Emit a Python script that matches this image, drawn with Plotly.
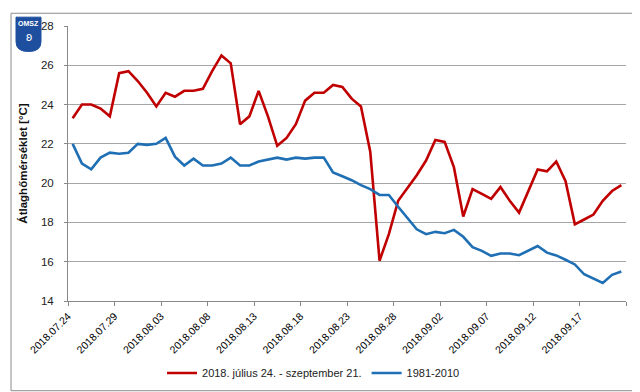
import pandas as pd
import plotly.graph_objects as go

# Dates (daily) 2018.07.24 - 2018.09.21
dates = pd.date_range("2018-07-24", "2018-09-21", freq="D")
date_labels = [d.strftime("%Y.%m.%d") for d in dates]

temp_2018 = [
    23.3, 24.0, 24.0, 23.8, 23.4, 25.6, 25.7, 25.2, 24.6, 23.9,
    24.6, 24.4, 24.7, 24.7, 24.8, 25.7, 26.5, 26.1, 23.0, 23.4,
    24.7, 23.4, 21.9, 22.3, 23.0, 24.2, 24.6, 24.6, 25.0, 24.9,
    24.3, 23.9, 21.6, 16.05, 17.4, 19.1, 19.75, 20.4, 21.15, 22.2,
    22.1, 20.8, 18.3, 19.7, 19.45, 19.2, 19.8, 19.1, 18.5, 19.65,
    20.7, 20.6, 21.1, 20.1, 17.9, 18.15, 18.4, 19.1, 19.6, 19.9,
]
temp_1981_2010 = [
    22.0, 21.0, 20.7, 21.3, 21.55, 21.5, 21.55, 22.0, 21.95, 22.0,
    22.3, 21.35, 20.9, 21.25, 20.9, 20.9, 21.0, 21.3, 20.9, 20.9,
    21.1, 21.2, 21.3, 21.2, 21.3, 21.25, 21.3, 21.3, 20.55, 20.35,
    20.15, 19.9, 19.7, 19.4, 19.4, 18.8, 18.25, 17.65, 17.4, 17.52,
    17.45, 17.62, 17.27, 16.74, 16.55, 16.3, 16.42, 16.42, 16.33, 16.57,
    16.8, 16.46, 16.32, 16.1, 15.86, 15.36, 15.13, 14.92, 15.33, 15.5,
]

series_names = ["2018. július 24. - szeptember 21.", "1981-2010"]
series_colors = ["#c00000", "#1f6fb4"]

x_idx = list(range(len(dates)))
tick_step = 5
tickvals = [i - 0.5 for i in range(0, len(dates) + 1, tick_step)]
ticktext = [date_labels[i] if i < len(dates) else "" for i in range(0, len(dates) + 1, tick_step)]
if tickvals[-1] != len(dates) - 0.5:
    tickvals.append(len(dates) - 0.5)
    ticktext.append("")

fig = go.Figure()
for name, vals, col in zip(series_names, [temp_2018, temp_1981_2010], series_colors):
    fig.add_trace(go.Scatter(
        x=x_idx, y=vals, mode="lines", name=name,
        line=dict(color=col, width=2.6),
    ))

font_family = "Liberation Sans, Arial, sans-serif"

fig.update_layout(
    width=640, height=392,
    margin=dict(l=60, r=22, t=16, b=95.5),
    paper_bgcolor="white", plot_bgcolor="white",
    font=dict(family=font_family, size=11, color="#222222"),
    showlegend=True,
    legend=dict(
        orientation="h", x=0.44, xanchor="center", y=-0.262, yanchor="middle",
        font=dict(size=11, color="#222222"), itemwidth=30,
        bgcolor="rgba(0,0,0,0)",
    ),
    xaxis=dict(
        range=[-0.5, len(dates) - 0.5],
        tickmode="array", tickvals=tickvals, ticktext=ticktext,
        tickangle=-45, ticks="outside", ticklen=4, tickcolor="#888888",
        showline=True, linecolor="#888888", linewidth=1,
        showgrid=False, zeroline=False,
        tickfont=dict(size=10.5, color="#000000"),
    ),
    yaxis=dict(
        range=[14, 28], dtick=2, tick0=14,
        showgrid=True, gridcolor="#a6a6a6", gridwidth=1,
        showline=True, linecolor="#888888", linewidth=1,
        ticks="outside", ticklen=3, tickcolor="#888888",
        zeroline=False,
        ticklabelstandoff=8,
        tickfont=dict(size=11.5, color="#222222"),
        title=dict(text="<b>Átlaghőmérséklet [°C]</b>",
                   font=dict(size=11.5, color="#111111"), standoff=10),
    ),
    shapes=[
        # outer chart border
        dict(type="rect", xref="paper", yref="paper",
             x0=(3 - 60) / 558, x1=(636 - 60) / 558,
             y0=(296.5 - 388) / 280.5, y1=1 + (16 - 3) / 280.5,
             line=dict(color="#8c8c8c", width=1), layer="below"),
        # logo badge
        dict(type="path", xref="paper", yref="paper",
             path=("M {a},{t} L {b},{t} L {b},{m} Q {b},{bt} {c},{bt} Q {a},{bt} {a},{m} Z").format(
                 a=(8 - 60) / 558, b=(33 - 60) / 558, c=(20.5 - 60) / 558,
                 t=1 + (16 - 7) / 280.5, m=1 + (16 - 32) / 280.5, bt=1 + (16 - 42) / 280.5),
             fillcolor="#1e4f9e", line=dict(color="#1e4f9e", width=1)),
    ],
    annotations=[
        dict(text="<b>OMSZ</b>", xref="paper", yref="paper",
             x=(20.5 - 60) / 558, y=1 + (16 - 13) / 280.5, showarrow=False,
             font=dict(size=7, color="white"), xanchor="center", yanchor="middle"),
        dict(text="ʚ", xref="paper", yref="paper",
             x=(20.5 - 60) / 558, y=1 + (16 - 27) / 280.5, showarrow=False,
             font=dict(size=12, color="white"), xanchor="center", yanchor="middle"),
    ],
)

fig.write_html("out.html")
